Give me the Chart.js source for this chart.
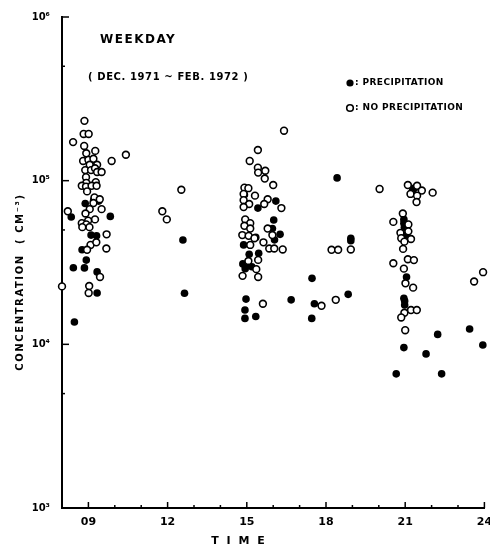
<!DOCTYPE html>
<html>
<head>
<meta charset="utf-8">
<script src="https://cdn.jsdelivr.net/npm/chart.js@4.4.1/dist/chart.umd.min.js"></script>
<style>
  body { margin: 0; background: #fff; }
  #contenedor { width: 490px; height: 547px; position: relative; }
</style>
</head>
<body>
<div id="contenedor"><canvas id="grafico"></canvas></div>
<script>
// DATOS: PRECIPITACION (puntos llenos)
const horaLluvia = [8.88, 9.20, 9.39, 8.35, 9.83, 9.10, 9.31, 8.76, 8.92, 8.43, 8.85, 9.33, 9.33, 8.47,
  12.58, 12.64,
  14.91, 15.42, 16.10, 16.02, 15.97, 16.26, 16.05, 15.34, 14.88, 15.09, 15.45, 14.85, 15.04, 15.19, 14.94, 14.97, 16.68, 14.93, 14.93, 15.34,
  17.47, 17.56, 17.46, 18.42, 18.94, 18.94, 18.84,
  21.28, 21.35, 20.95, 20.95, 20.97, 20.95, 21.07, 21.05, 20.95, 20.98, 20.98, 22.23, 20.95, 21.79, 20.66, 22.38,
  23.44, 23.94];
const concLluvia = [7.25e4, 7.6e4, 7.5e4, 6.0e4, 6.05e4, 4.65e4, 4.6e4, 3.78e4, 3.27e4, 2.94e4, 2.93e4, 2.77e4, 2.06e4, 1.37e4,
  4.34e4, 2.05e4,
  8.2e4, 6.8e4, 7.5e4, 5.75e4, 5.1e4, 4.7e4, 4.35e4, 4.5e4, 4.05e4, 3.55e4, 3.6e4, 3.1e4, 3.1e4, 2.98e4, 2.9e4, 1.89e4, 1.87e4, 1.62e4, 1.44e4, 1.48e4,
  2.53e4, 1.77e4, 1.44e4, 1.04e5, 4.45e4, 4.3e4, 2.02e4,
  8.7e4, 9.0e4, 5.8e4, 5.5e4, 5.2e4, 4.65e4, 4.5e4, 2.58e4, 1.91e4, 1.84e4, 1.74e4, 1.15e4, 9.55e3, 8.74e3, 6.6e3, 6.6e3,
  1.24e4, 9.9e3];

// DATOS: SIN PRECIPITACION (puntos vacios)
const horaSeco = [8.85, 8.82, 9.01, 8.42, 8.84, 8.92, 9.26, 10.42, 9.88, 8.80, 9.00, 9.19, 9.05, 9.33, 8.88, 9.10, 9.25, 9.33, 9.50, 8.91,
  8.92, 9.28, 8.75, 8.91, 9.12, 9.31, 8.95, 9.23, 9.43, 9.19, 9.50, 9.05, 8.22, 8.89, 9.25, 8.99, 8.75, 8.92, 8.77, 9.04,
  9.69, 9.08, 9.30, 8.95, 9.68, 9.44, 8.00, 9.03, 9.01,
  11.80, 11.97, 12.52,
  16.41, 15.42, 15.11, 15.42, 15.70, 15.43, 15.68, 16.00, 14.91, 15.06, 14.88, 15.31, 14.88, 15.79, 15.66, 15.09, 14.88, 16.31, 14.94,
  15.13, 14.91, 15.13, 15.79, 14.83, 15.07, 15.29, 15.97, 15.13, 15.63, 15.85, 16.04, 16.36, 15.06, 15.43, 15.36, 14.84, 15.43, 15.61,
  17.83, 18.37, 18.21, 18.46, 18.94, 20.03,
  21.10, 21.45, 21.63, 21.20, 21.45, 21.43, 22.04, 20.91, 20.55, 21.12, 20.82, 21.12, 20.85, 21.22, 20.97, 20.92, 20.55, 21.10, 21.33,
  20.95, 21.01, 21.30, 20.97, 20.85, 21.22, 21.44, 21.00,
  23.61, 23.95];
const concSeco = [2.32e5, 1.93e5, 1.93e5, 1.72e5, 1.63e5, 1.47e5, 1.52e5, 1.44e5, 1.32e5, 1.32e5, 1.34e5, 1.36e5, 1.25e5, 1.25e5, 1.16e5, 1.16e5, 1.19e5, 1.13e5, 1.13e5, 1.05e5,
  9.7e4, 9.8e4, 9.3e4, 9.2e4, 9.3e4, 9.3e4, 8.6e4, 7.9e4, 7.7e4, 7.3e4, 6.7e4, 6.7e4, 6.5e4, 6.3e4, 5.8e4, 5.7e4, 5.5e4, 5.4e4, 5.2e4, 5.2e4,
  4.7e4, 4.05e4, 4.2e4, 3.78e4, 3.85e4, 2.58e4, 2.26e4, 2.27e4, 2.06e4,
  6.5e4, 5.8e4, 8.8e4,
  2.02e5, 1.54e5, 1.32e5, 1.20e5, 1.15e5, 1.12e5, 1.03e5, 9.4e4, 9.06e4, 9.0e4, 8.3e4, 8.1e4, 7.6e4, 7.7e4, 7.2e4, 7.2e4, 6.9e4, 6.8e4, 5.8e4,
  5.5e4, 5.3e4, 5.1e4, 5.1e4, 4.65e4, 4.6e4, 4.45e4, 4.65e4, 4.05e4, 4.2e4, 3.85e4, 3.85e4, 3.8e4, 3.23e4, 3.28e4, 2.88e4, 2.62e4, 2.58e4, 1.77e4,
  1.72e4, 1.87e4, 3.78e4, 3.78e4, 3.8e4, 8.9e4,
  9.4e4, 9.3e4, 8.7e4, 8.3e4, 8.1e4, 7.4e4, 8.45e4, 6.3e4, 5.6e4, 5.4e4, 4.8e4, 4.9e4, 4.45e4, 4.4e4, 4.24e4, 3.83e4, 3.13e4, 3.31e4, 3.27e4,
  2.9e4, 2.36e4, 2.22e4, 1.56e4, 1.46e4, 1.62e4, 1.62e4, 1.22e4,
  2.42e4, 2.76e4];

// EJES
const horasEje = [8, 9, 10, 11, 12, 13, 14, 15, 16, 17, 18, 19, 20, 21, 22, 23, 24];
const horasMarcadas = [9, 12, 15, 18, 21, 24];
const etiquetasHora = ["09", "12", "15", "18", "21", "24"];
const potencias = [1e3, 1e4, 1e5, 1e6];
const etiquetasConc = ["10³", "10⁴", "10⁵", "10⁶"];
const marcasMedias = [5e3, 5e4, 5e5];

const FUENTE = "'DejaVu Sans', sans-serif";

function armarPuntos(horas, conc) {
  return horas.map((h, i) => ({ x: h, y: conc[i] }));
}

function circulo(ctx, x, y, r, lleno) {
  ctx.beginPath();
  ctx.arc(x, y, r, 0, Math.PI * 2);
  ctx.fillStyle = lleno ? "#000" : "#fff";
  ctx.fill();
  if (!lleno) {
    ctx.lineWidth = 1.6;
    ctx.strokeStyle = "#000";
    ctx.stroke();
  }
}

function texto(ctx, t, x, y, tam, espacio, alinear) {
  ctx.font = "bold " + tam + "px " + FUENTE;
  ctx.letterSpacing = espacio + "px";
  ctx.textAlign = alinear || "left";
  ctx.textBaseline = "middle";
  ctx.fillStyle = "#000";
  ctx.fillText(t, x, y);
}

// MARCAS Y TEXTOS
const anotaciones = {
  id: "anotaciones",
  afterDraw(chart) {
    const ctx = chart.ctx;
    const ex = chart.scales.x;
    const ey = chart.scales.y;
    const base = ey.getPixelForValue(1e3);
    const izq = ex.getPixelForValue(8);

    ctx.save();
    ctx.strokeStyle = "#000";
    ctx.lineWidth = 1.5;
    horasEje.forEach(h => {
      const px = ex.getPixelForValue(h);
      const largo = horasMarcadas.includes(h) ? 6 : 3;
      ctx.beginPath();
      ctx.moveTo(px, base);
      ctx.lineTo(px, base - largo);
      ctx.stroke();
    });
    potencias.concat(marcasMedias).forEach(v => {
      const py = ey.getPixelForValue(v);
      const largo = potencias.includes(v) ? 7 : 3;
      ctx.beginPath();
      ctx.moveTo(izq, py);
      ctx.lineTo(izq + largo, py);
      ctx.stroke();
    });

    texto(ctx, "WEEKDAY", 100, 40, 12, 1.5);
    texto(ctx, "( DEC. 1971 ~ FEB. 1972 )", 88, 77, 10, 0.6);

    circulo(ctx, 350, 83, 3.6, true);
    texto(ctx, ": PRECIPITATION", 355, 83, 9, 0.4);
    circulo(ctx, 350, 108, 3.3, false);
    texto(ctx, ": NO PRECIPITATION", 355, 108, 9, 0.4);

    texto(ctx, "T I M E", 239, 541, 11, 2, "center");

    ctx.translate(20, 282);
    ctx.rotate(-Math.PI / 2);
    texto(ctx, "CONCENTRATION  ( CM⁻³)", 0, 0, 10, 1.6, "center");
    ctx.restore();
  }
};

// GRAFICO
const grafico = new Chart(document.getElementById("grafico"), {
  type: "scatter",
  data: {
    datasets: [
      {
        label: "NO PRECIPITATION",
        data: armarPuntos(horaSeco, concSeco),
        pointRadius: 3.4,
        pointBorderWidth: 1.6,
        pointBackgroundColor: "#fff",
        pointBorderColor: "#000",
        clip: false
      },
      {
        label: "PRECIPITATION",
        data: armarPuntos(horaLluvia, concLluvia),
        pointRadius: 3.8,
        pointBorderWidth: 0,
        pointBackgroundColor: "#000",
        pointBorderColor: "#000",
        clip: false
      }
    ]
  },
  options: {
    responsive: true,
    maintainAspectRatio: false,
    animation: false,
    layout: { padding: { top: 17, right: 3, bottom: 0, left: 0 } },
    plugins: {
      legend: { display: false },
      tooltip: { enabled: false }
    },
    scales: {
      x: {
        type: "linear",
        min: 8,
        max: 24,
        grid: { display: false },
        border: { display: true, color: "#000", width: 2 },
        afterBuildTicks: s => { s.ticks = horasEje.map(h => ({ value: h })); },
        afterFit: s => { s.height = 39; s.paddingLeft = 0; s.paddingRight = 0; },
        ticks: {
          autoSkip: false,
          maxRotation: 0,
          padding: 0,
          color: "#000",
          font: { family: FUENTE, size: 11, weight: "bold" },
          callback: v => {
            const i = horasMarcadas.indexOf(v);
            return i >= 0 ? etiquetasHora[i] : "";
          }
        }
      },
      y: {
        type: "logarithmic",
        min: 1e3,
        max: 1e6,
        grid: { display: false },
        border: { display: true, color: "#000", width: 2 },
        afterBuildTicks: s => { s.ticks = potencias.concat(marcasMedias).map(v => ({ value: v })); },
        afterFit: s => { s.width = 62; s.paddingTop = 0; s.paddingBottom = 0; },
        ticks: {
          autoSkip: false,
          padding: 4,
          color: "#000",
          font: { family: FUENTE, size: 10, weight: "bold" },
          callback: v => {
            const i = potencias.indexOf(v);
            return i >= 0 ? etiquetasConc[i] : "";
          }
        }
      }
    }
  },
  plugins: [anotaciones]
});
</script>
</body>
</html>
